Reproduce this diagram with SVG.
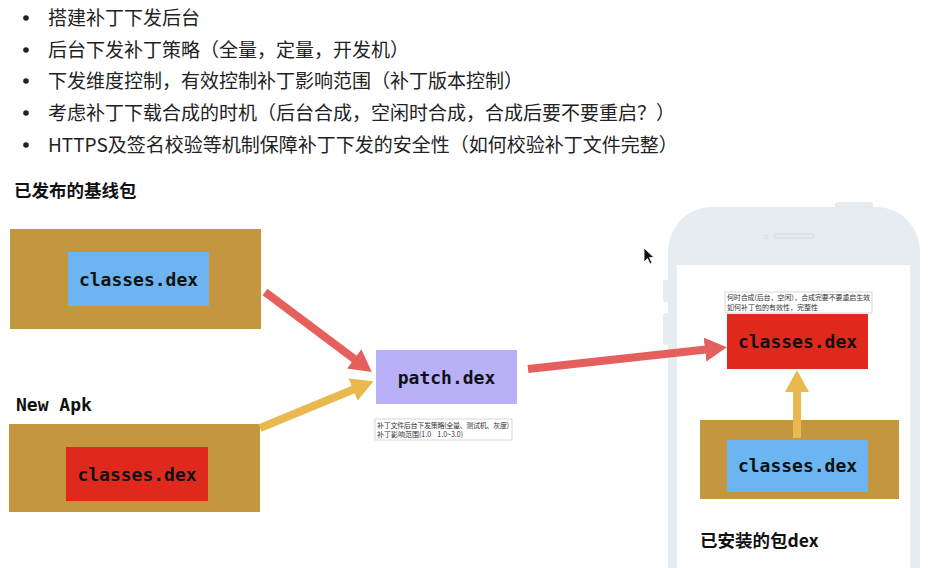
<svg xmlns="http://www.w3.org/2000/svg" width="928" height="568" viewBox="0 0 928 568">
<style>
.bul{font-family:"Noto Sans CJK SC","Noto Sans",sans-serif;font-size:19px;fill:#222}
.hd{font-family:"Noto Sans CJK SC","Noto Sans",sans-serif;font-size:17.5px;font-weight:bold;fill:#111}
.mono{font-family:"DejaVu Sans Mono","Liberation Mono","Noto Sans CJK SC",monospace;font-weight:bold;font-size:18px;fill:#111}
.lbl{font-family:"DejaVu Sans Mono","Liberation Mono",monospace;font-weight:bold;font-size:18px;fill:#111}
.note{font-family:"Noto Sans CJK SC",sans-serif;font-size:7px;fill:#333}
.gold{fill:#C4963F}
.blue{fill:#6CB5F1}
.red{fill:#E0291D}
.notebox{fill:#fff;stroke:#ccc;stroke-width:0.8}
.phone{fill:#E6ECF0}
</style>
<defs>
<marker id="ahR" markerUnits="userSpaceOnUse" markerWidth="22" markerHeight="24" refX="1" refY="12" orient="auto"><path d="M0,0 L22,12 L0,24 z" fill="#E5605C"/></marker>
<marker id="ahY" markerUnits="userSpaceOnUse" markerWidth="22" markerHeight="24" refX="1" refY="12" orient="auto"><path d="M0,0 L22,12 L0,24 z" fill="#E9B94F"/></marker>
</defs>
<rect width="928" height="568" fill="#fff"/>
<g id="bullets">
<circle cx="26" cy="18" r="2.8" fill="#222"/><text class="bul" x="48" y="25">搭建补丁下发后台</text>
<circle cx="26" cy="50" r="2.8" fill="#222"/><text class="bul" x="48" y="57">后台下发补丁策略（全量，定量，开发机）</text>
<circle cx="26" cy="81" r="2.8" fill="#222"/><text class="bul" x="48" y="88">下发维度控制，有效控制补丁影响范围（补丁版本控制）</text>
<circle cx="26" cy="113" r="2.8" fill="#222"/><text class="bul" x="48" y="120">考虑补丁下载合成的时机（后台合成，空闲时合成，合成后要不要重启？）</text>
<circle cx="26" cy="145" r="2.8" fill="#222"/><text class="bul" x="48" y="152">HTTPS及签名校验等机制保障补丁下发的安全性（如何校验补丁文件完整）</text>
</g>
<g id="phone">
<rect class="phone" x="835" y="202" width="38" height="10" rx="3"/>
<rect class="phone" x="663" y="280" width="8" height="22" rx="2"/>
<rect class="phone" x="663" y="313" width="8" height="32" rx="2"/>
<rect class="phone" x="668" y="207" width="252" height="420" rx="44"/>
<rect x="677" y="265" width="233" height="340" fill="#fff"/>
<circle cx="766" cy="237" r="2" fill="none" stroke="#cfd6db" stroke-width="0.8"/>
<rect x="774" y="234" width="40" height="4" rx="2" fill="none" stroke="#cfd6db" stroke-width="0.8"/>
</g>
<g id="baseline">
<text class="hd" x="14" y="197">已发布的基线包</text>
<rect class="gold" x="10" y="229" width="251" height="100"/>
<rect class="blue" x="68" y="252" width="141" height="54"/>
<text class="mono" x="138.5" y="286" text-anchor="middle">classes.dex</text>
</g>
<g id="newapk">
<text class="lbl" x="16" y="411">New Apk</text>
<rect class="gold" x="9" y="424" width="251" height="88"/>
<rect class="red" x="66" y="447" width="142" height="54"/>
<text class="mono" x="137" y="481" text-anchor="middle">classes.dex</text>
</g>
<g id="patch">
<rect x="376" y="350" width="141" height="54" fill="#B8B1F9"/>
<text class="mono" x="446.5" y="384" text-anchor="middle">patch.dex</text>
<rect class="notebox" x="375" y="419" width="137" height="21"/>
<text class="note" x="377" y="428" textLength="132">补丁文件后台下发策略(全量、测试机、灰度)</text>
<text class="note" x="377" y="437">补丁影响范围(1.0&#160;&#160;&#160;&#160;1.0~3.0)</text>
</g>
<g id="installed">
<rect class="notebox" x="725" y="292" width="147" height="21"/>
<text class="note" x="727" y="300" textLength="143">何时合成(后台，空闲），合成完要不要重启生效</text>
<text class="note" x="727" y="310">如何补丁包的有效性，完整性</text>
<rect class="red" x="727" y="314" width="141" height="55"/>
<text class="mono" x="797.5" y="348" text-anchor="middle">classes.dex</text>
<rect class="gold" x="700" y="420" width="199" height="79"/>
<rect class="blue" x="727" y="440" width="141" height="52"/>
<text class="mono" x="797.5" y="472" text-anchor="middle">classes.dex</text>
<text class="hd" x="700" y="547">已安装的包dex</text>
</g>
<g id="connectors">
<line x1="265" y1="292" x2="355" y2="359.5" stroke="#E5605C" stroke-width="8" marker-end="url(#ahR)"/>
<line x1="260" y1="428" x2="354" y2="389.2" stroke="#E9B94F" stroke-width="8" marker-end="url(#ahY)"/>
<line x1="528" y1="369" x2="706" y2="349.5" stroke="#E5605C" stroke-width="8" marker-end="url(#ahR)"/>
<line x1="797" y1="438" x2="797" y2="391" stroke="#E9B94F" stroke-width="8" marker-end="url(#ahY)"/>
</g>
<path d="M644,248 L644,262 L647.5,258.5 L650,264 L652,263 L649.5,257.5 L654,257.5 z" fill="#111" stroke="#fff" stroke-width="0.8"/>
</svg>
